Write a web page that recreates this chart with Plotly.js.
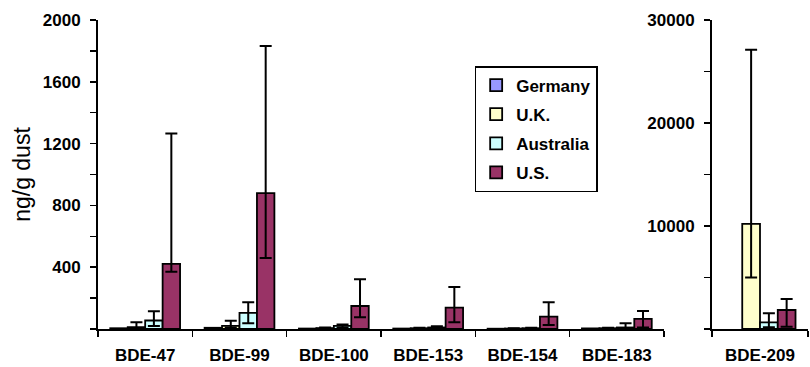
<!DOCTYPE html>
<html>
<head>
<meta charset="utf-8">
<script src="https://cdn.plot.ly/plotly-3.0.1.min.js"></script>
<style>html,body{margin:0;padding:0;background:#fff;}#chart{width:810px;height:367px;}</style>
</head>
<body>
<div id="chart"></div>
<script>
// ---- data ----
var categories = ["BDE-47", "BDE-99", "BDE-100", "BDE-153", "BDE-154", "BDE-183"];
var countries = ["Germany", "U.K.", "Australia", "U.S."];

var germany   = [5, 8, 3, 3, 2, 4];
var uk        = [12, 20, 6, 5, 3, 5];
var australia = [55, 105, 20, 10, 5, 10];
var us        = [421, 880, 149, 138, 80, 65];

var ukHigh   = [44, 54, 10, 8, 5, 8];
var ukLow    = [5, 10, 3, 2, 1, 2];
var ausHigh  = [115, 173, 30, 18, 8, 38];
var ausLow   = [20, 37, 10, 4, 2, 3];
var usHigh   = [1265, 1832, 322, 272, 173, 117];
var usLow    = [370, 460, 76, 43, 26, 10];

var categories2 = ["BDE-209"];
var germany209 = [null];
var uk209      = [10200];
var aus209     = [650];
var us209      = [1845];
var uk209High  = [27100];
var uk209Low   = [5000];
var aus209High = [1520];
var aus209Low  = [165];
var us209High  = [2910];
var us209Low   = [225];

var leftTicks  = [0, 200, 400, 600, 800, 1000, 1200, 1400, 1600, 1800, 2000];
var leftText   = ["", "", "400", "", "800", "", "1200", "", "1600", "", "2000"];
var rightTicks = [0, 5000, 10000, 15000, 20000, 25000, 30000];
var rightText  = ["", "", "10000", "", "20000", "", "30000"];

// ---- styling ----
var colors = ["#9999FF", "#FFFFCC", "#CCFFFF", "#993366"];
var FONT = "Liberation Sans, Arial, sans-serif";

function diff(a, b, sign) {
  return a.map(function (v, i) {
    if (v === null || b[i] === null) return null;
    return sign > 0 ? v - b[i] : b[i] - v;
  });
}
function errBar(vals, hi, lo) {
  if (!hi) return {visible: false};
  return {
    type: "data", symmetric: false,
    array: diff(hi, vals, 1), arrayminus: diff(lo, vals, -1),
    color: "#000", thickness: 2, width: 6
  };
}
function bar(name, x, y, color, hi, lo, xa, ya, showLegend) {
  return {
    type: "bar", name: name, x: x, y: y,
    xaxis: xa, yaxis: ya, legendgroup: name, showlegend: showLegend,
    marker: {color: color, line: {color: "#000", width: 1.8}},
    error_y: errBar(y, hi, lo),
    hoverinfo: "x+y+name"
  };
}

var traces = [
  bar(countries[0], categories, germany,   colors[0], null, null, "x", "y", true),
  bar(countries[1], categories, uk,        colors[1], ukHigh, ukLow, "x", "y", true),
  bar(countries[2], categories, australia, colors[2], ausHigh, ausLow, "x", "y", true),
  bar(countries[3], categories, us,        colors[3], usHigh, usLow, "x", "y", true),
  bar(countries[0], categories2, germany209, colors[0], null, null, "x2", "y2", false),
  bar(countries[1], categories2, uk209,  colors[1], uk209High, uk209Low, "x2", "y2", false),
  bar(countries[2], categories2, aus209, colors[2], aus209High, aus209Low, "x2", "y2", false),
  bar(countries[3], categories2, us209,  colors[3], us209High, us209Low, "x2", "y2", false)
];

var tickFont = {family: FONT, size: 17, color: "#000", weight: "bold"};
function xAxis(domain, anchor) {
  return {
    domain: domain, anchor: anchor, type: "category",
    showline: true, linecolor: "#000", linewidth: 2,
    ticks: "outside", tickson: "boundaries", ticklen: 6, tickwidth: 1.5, tickcolor: "#000",
    tickfont: tickFont, ticklabelstandoff: 10,
    showgrid: false, zeroline: false, fixedrange: true
  };
}
function yAxis(range, tv, tt, anchor) {
  return {
    domain: [0.1035, 0.9455], anchor: anchor, range: range,
    tickmode: "array", tickvals: tv, ticktext: tt,
    showline: true, linecolor: "#000", linewidth: 2,
    ticks: "outside", ticklen: 6, tickwidth: 1.5, tickcolor: "#000",
    tickfont: tickFont, ticklabelstandoff: 6,
    showgrid: false, zeroline: false, fixedrange: true
  };
}

var layout = {
  width: 810, height: 367,
  margin: {l: 0, r: 0, t: 0, b: 0},
  paper_bgcolor: "#fff", plot_bgcolor: "#fff",
  barmode: "group", bargap: 0.26, bargroupgap: 0,
  showlegend: true,
  legend: {
    x: 0.586, y: 0.82, xanchor: "left", yanchor: "top",
    bgcolor: "#fff", bordercolor: "#000", borderwidth: 1.5,
    font: {family: FONT, size: 17, color: "#000", weight: "bold"},
    traceorder: "grouped", tracegroupgap: 4
  },
  xaxis: xAxis([98 / 810, 664 / 810], "y"),
  xaxis2: xAxis([712 / 810, 808 / 810], "y2"),
  yaxis: Object.assign(yAxis([0, 2000], leftTicks, leftText, "x"), {
    title: {text: "ng/g dust", font: {family: FONT, size: 23, color: "#000"}, standoff: 6}
  }),
  yaxis2: yAxis([0, 30000], rightTicks, rightText, "x2")
};

Plotly.newPlot("chart", traces, layout, {displayModeBar: false, staticPlot: true});
</script>
</body>
</html>
